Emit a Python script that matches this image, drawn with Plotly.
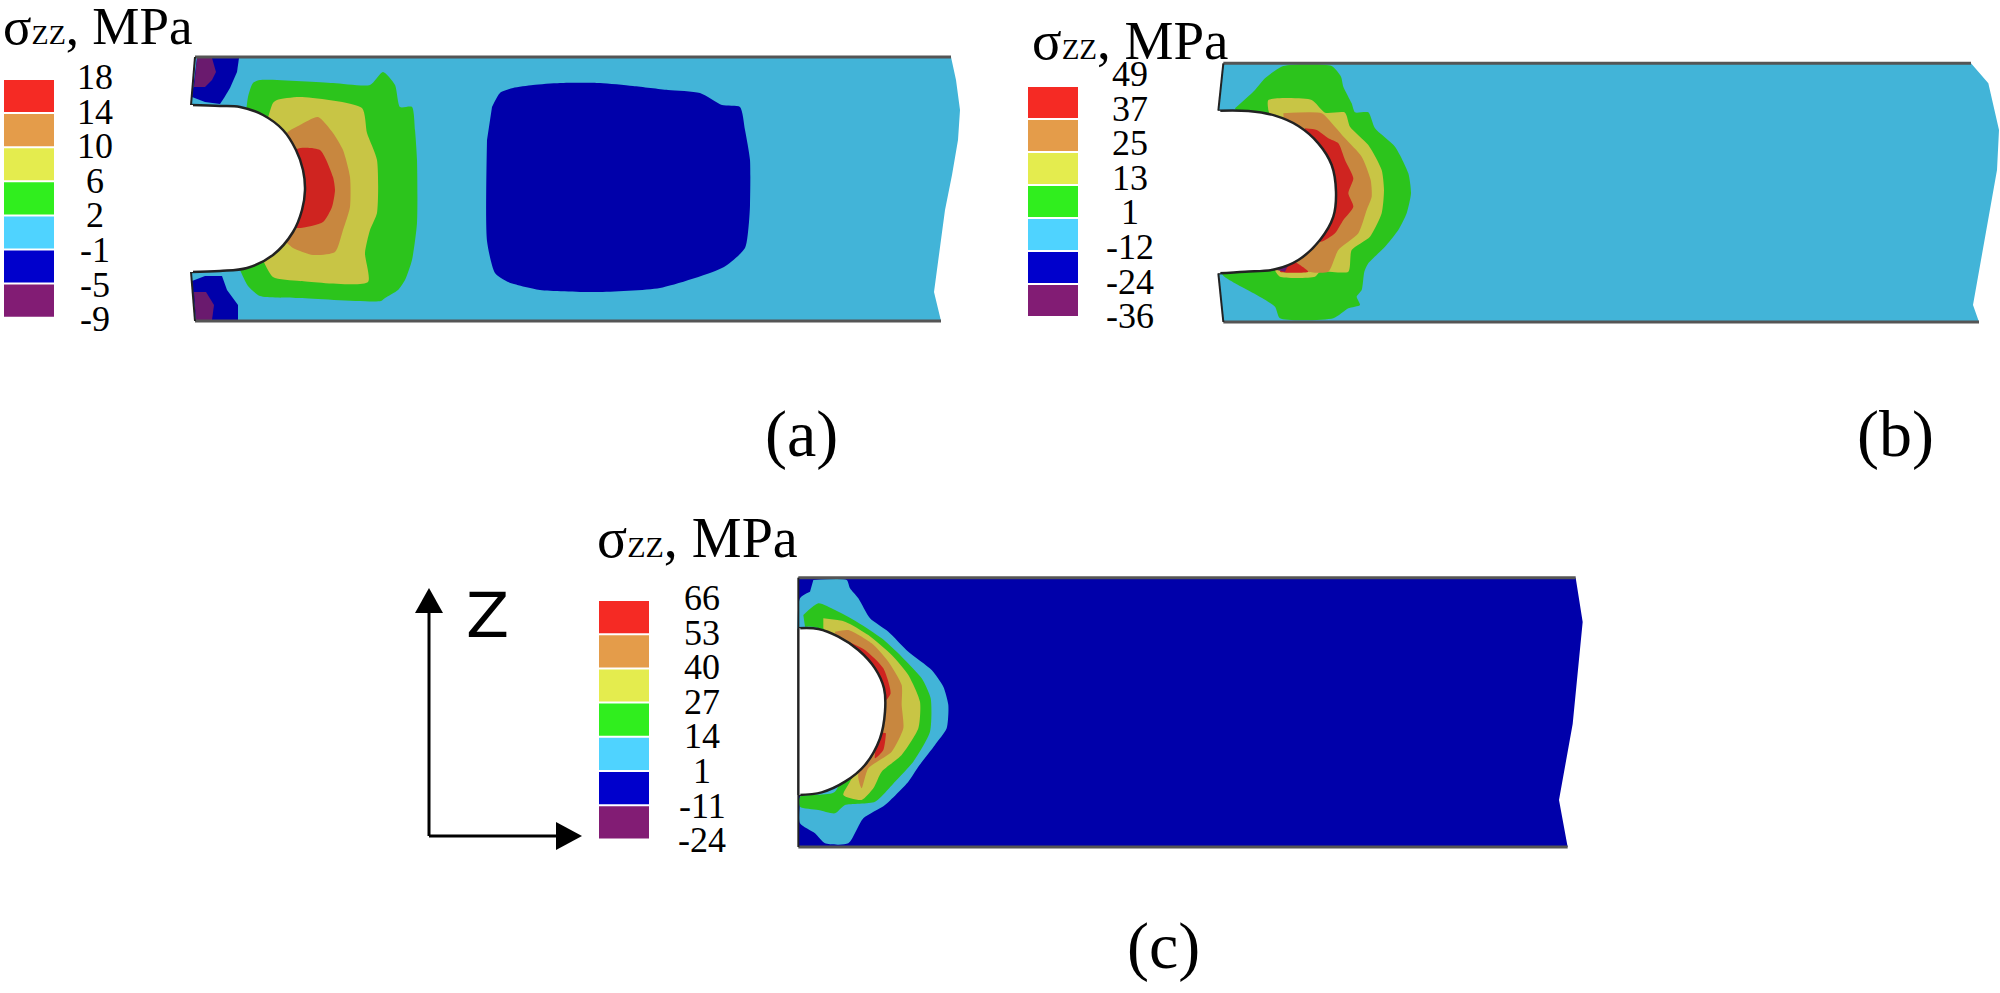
import plotly.graph_objects as go

##colours of the contour bands on the plates and in the legends
plate_red = "#CF2420"
plate_orange = "#C8873F"
plate_yellow = "#C8C545"
plate_green = "#2CC41C"
plate_cyan = "#42B4D8"
plate_blue = "#0000AA"
plate_purple = "#6A1A6E"
legend_colors = ["#F52A24", "#E49C4A", "#E4EC4E", "#30EE1E", "#4FD3FF", "#0000CC", "#821C74"]

##legend tick labels
ticks_a = ["18", "14", "10", "6", "2", "-1", "-5", "-9"]
ticks_b = ["49", "37", "25", "13", "1", "-12", "-24", "-36"]
ticks_c = ["66", "53", "40", "27", "14", "1", "-11", "-24"]

##panel (a), read in picture pixels
a_shape_x = [195, 951, 956, 960, 958, 952, 945, 938, 934, 941, 195, 191, 191]
a_shape_y = [57, 57, 80, 110, 140, 175, 210, 260, 292, 321, 321, 272, 105]
a_notch_x = [191, 220, 240, 263, 283, 296, 303, 305, 302, 293, 273, 247, 220, 191]
a_notch_y = [105, 106, 107, 115, 130, 150, 170, 190, 210, 232, 255, 268, 271, 272]
a_blue1_x = [197, 239, 237, 230, 224, 220, 205, 192]
a_blue1_y = [58, 58, 72, 88, 98, 104, 102, 97]
a_purple1_x = [197, 212, 216, 212, 205, 194]
a_purple1_y = [58, 58, 72, 80, 87, 87]
a_blue2_x = [192, 205, 222, 227, 238, 238, 196]
a_blue2_y = [281, 276, 276, 290, 305, 320, 320]
a_purple2_x = [194, 206, 214, 212, 196]
a_purple2_y = [292, 292, 305, 320, 320]
a_green_x = [240, 248, 253, 260, 333, 370, 383, 395, 400, 412, 415, 417, 417, 412, 405, 398, 385, 381, 300, 260, 248, 240]
a_green_y = [188, 97, 83, 80, 83, 85, 72, 85, 107, 107, 130, 160, 223, 260, 280, 290, 298, 301, 298, 296, 286, 270]
a_yellow_x = [250, 273, 277, 300, 362, 367, 377, 377, 370, 365, 368, 300, 273, 262]
a_yellow_y = [188, 103, 100, 97, 108, 133, 160, 213, 230, 253, 282, 281, 277, 258]
a_orange_x = [270, 287, 300, 318, 333, 343, 350, 350, 343, 335, 313, 293, 287, 270]
a_orange_y = [188, 133, 125, 117, 133, 150, 177, 207, 230, 252, 255, 248, 243, 230]
a_red_x = [285, 297, 320, 333, 335, 332, 323, 297, 285]
a_red_y = [188, 149, 150, 177, 190, 207, 222, 228, 220]
a_core_x = [492, 500, 513, 533, 560, 600, 633, 668, 700, 722, 740, 745, 750, 750, 749, 745, 724, 660, 597, 540, 508, 495, 487, 487]
a_core_y = [107, 93, 88, 85, 83, 83, 86, 90, 93, 105, 107, 130, 160, 205, 222, 248, 267, 288, 292, 290, 282, 273, 241, 140]

##panel (b), read in crop pixels at 3x, crop origin below
b_origin = (1205, 50)
b_shape_u = [55, 2298, 2350, 2382, 2376, 2352, 2304, 2322, 55, 40, 40]
b_shape_v = [40, 40, 100, 240, 360, 498, 765, 816, 816, 670, 182]
b_notch_u = [40, 130, 210, 280, 340, 380, 393, 385, 345, 280, 210, 120, 40]
b_notch_v = [182, 183, 197, 228, 280, 345, 425, 500, 570, 630, 658, 665, 670]
b_green_u = [90, 150, 180, 235, 380, 408, 415, 440, 450, 490, 510, 570, 610, 618, 605, 580, 540, 490, 478, 470, 455, 465, 430, 385, 225, 210, 155, 90, 50, 200]
b_green_v = [175, 120, 85, 48, 48, 80, 110, 160, 187, 187, 235, 290, 370, 430, 490, 540, 590, 640, 665, 720, 740, 765, 775, 805, 805, 770, 735, 700, 670, 400]
b_yellow_u = [190, 190, 320, 360, 420, 435, 490, 530, 537, 530, 495, 440, 430, 345, 330, 225, 210, 250]
b_yellow_v = [180, 150, 150, 188, 188, 230, 285, 360, 420, 490, 560, 600, 665, 665, 680, 680, 660, 400]
b_orange_u = [235, 350, 385, 420, 470, 497, 500, 485, 460, 400, 370, 310, 270, 250]
b_orange_v = [190, 190, 225, 265, 320, 390, 440, 480, 550, 600, 665, 665, 640, 400]
b_red1_u = [300, 335, 370, 400, 420, 445, 430, 445, 415, 390, 345, 300]
b_red1_v = [235, 240, 265, 280, 330, 385, 430, 470, 510, 550, 575, 400]
b_red2_u = [270, 285, 310, 225, 235]
b_red2_v = [635, 645, 665, 665, 650]
b_purple_u = [215, 250, 240]
b_purple_v = [660, 645, 665]

##panel (c), read in crop pixels at 3x, crop origin below
c_origin = (785, 565)
c_shape_u = [40, 2372, 2393, 2363, 2322, 2348, 40, 40, 40]
c_shape_v = [38, 38, 171, 477, 705, 846, 846, 690, 190]
c_notch_u = [40, 100, 160, 220, 270, 297, 300, 285, 240, 180, 110, 40]
c_notch_v = [190, 192, 215, 255, 310, 370, 440, 520, 600, 650, 682, 690]
c_cyan_u = [85, 185, 195, 220, 255, 310, 370, 440, 475, 490, 485, 450, 400, 370, 300, 235, 190, 120, 90, 45, 45, 45, 75]
c_cyan_v = [45, 45, 70, 100, 160, 200, 260, 315, 365, 420, 490, 540, 605, 650, 720, 760, 835, 835, 805, 775, 700, 100, 80]
c_green_u = [55, 100, 150, 215, 290, 350, 410, 437, 435, 385, 330, 270, 180, 150, 100, 45, 45, 150, 200, 100, 60]
c_green_v = [150, 115, 135, 170, 220, 275, 340, 400, 500, 590, 650, 710, 720, 745, 735, 725, 695, 680, 500, 190, 185]
c_yellow_u = [115, 180, 250, 320, 370, 405, 400, 350, 290, 265, 230, 175, 200, 250, 115]
c_yellow_v = [160, 170, 210, 270, 330, 410, 490, 570, 620, 670, 705, 690, 640, 400, 190]
c_orange_u = [150, 190, 260, 310, 350, 350, 355, 320, 250, 230, 220, 230, 150]
c_orange_v = [200, 195, 235, 290, 360, 420, 490, 560, 610, 670, 640, 400, 205]
c_red1_u = [185, 240, 295, 317, 298, 270]
c_red1_v = [228, 255, 310, 385, 410, 350]
c_red2_u = [303, 295, 270, 280]
c_red2_v = [505, 555, 580, 500]

SERIF = "Liberation Serif, Times New Roman, serif"

def from_crop(us, vs, origin):
    xs = [origin[0] + u / 3 for u in us]
    ys = [origin[1] + v / 3 for v in vs]
    return xs, ys

fig = go.Figure()

def poly(xs, ys, color, curve=False):
    line = dict(width=0, color=color)
    if curve:
        line = dict(width=0, color=color, shape="spline", smoothing=0.6)
    fig.add_trace(go.Scatter(x=xs, y=ys, mode="lines", fill="toself", fillcolor=color,
                             line=line, hoverinfo="skip", showlegend=False))

def notch(xs, ys):
    fig.add_trace(go.Scatter(x=xs, y=ys, mode="lines", fill="toself", fillcolor="#FFFFFF",
                             line=dict(width=2.5, color="#222222", shape="spline"),
                             hoverinfo="skip", showlegend=False))
    edge([xs[0], xs[-1]], [ys[0], ys[-1]], "#FFFFFF", 4)

def edge(xs, ys, color="#555555", width=3):
    fig.add_trace(go.Scatter(x=xs, y=ys, mode="lines", line=dict(color=color, width=width),
                             hoverinfo="skip", showlegend=False))

def label(x, y, text, size, family=SERIF, anchor="center"):
    fig.add_annotation(x=x, y=y, text=text, showarrow=False, xanchor=anchor, yanchor="middle",
                       font=dict(family=family, size=size, color="#000000"))

def color_key(left, top, pitch, ticks, tick_x, tick_top, tick_pitch, title_x, title_y, title_size):
    for i, c in enumerate(legend_colors):
        y0 = top + i * pitch
        poly([left, left + 50, left + 50, left], [y0, y0, y0 + pitch - 2, y0 + pitch - 2], c)
    for i, t in enumerate(ticks):
        label(tick_x, tick_top + i * tick_pitch, t, 36)
    small = round(title_size * 0.53)
    label(title_x, title_y, "σ<span style='font-size:%dpx'>ZZ</span>, MPa" % small, title_size, anchor="left")

##panel (a)
poly(a_shape_x, a_shape_y, plate_cyan)
poly(a_core_x, a_core_y, plate_blue, True)
poly(a_blue1_x, a_blue1_y, plate_blue)
poly(a_purple1_x, a_purple1_y, plate_purple)
poly(a_blue2_x, a_blue2_y, plate_blue)
poly(a_purple2_x, a_purple2_y, plate_purple)
poly(a_green_x, a_green_y, plate_green, True)
poly(a_yellow_x, a_yellow_y, plate_yellow, True)
poly(a_orange_x, a_orange_y, plate_orange, True)
poly(a_red_x, a_red_y, plate_red, True)
notch(a_notch_x, a_notch_y)
edge(a_shape_x[:2], a_shape_y[:2])
edge(a_shape_x[9:11], a_shape_y[9:11])
edge([195, 191], [57, 105], "#222222", 2)
edge([195, 191], [321, 272], "#222222", 2)
color_key(4, 80, 34.1, ticks_a, 95, 77, 34.6, 1, 26, 53)

##panel (b)
bx, by = from_crop(b_shape_u, b_shape_v, b_origin)
poly(bx, by, plate_cyan)
for us, vs, c in [(b_green_u, b_green_v, plate_green), (b_yellow_u, b_yellow_v, plate_yellow),
                  (b_orange_u, b_orange_v, plate_orange), (b_red1_u, b_red1_v, plate_red),
                  (b_red2_u, b_red2_v, plate_red), (b_purple_u, b_purple_v, plate_purple)]:
    xs, ys = from_crop(us, vs, b_origin)
    poly(xs, ys, c, len(us) > 3)
xs, ys = from_crop(b_notch_u, b_notch_v, b_origin)
notch(xs, ys)
edge(bx[:2], by[:2])
edge(bx[7:9], by[7:9])
edge([bx[0], bx[10]], [by[0], by[10]], "#222222", 2)
edge([bx[8], bx[9]], [by[8], by[9]], "#222222", 2)
color_key(1028, 87, 33, ticks_b, 1130, 74, 34.6, 1030, 40, 55)

##panel (c)
cx, cy = from_crop(c_shape_u, c_shape_v, c_origin)
poly(cx, cy, plate_blue)
for us, vs, c in [(c_cyan_u, c_cyan_v, plate_cyan), (c_green_u, c_green_v, plate_green),
                  (c_yellow_u, c_yellow_v, plate_yellow), (c_orange_u, c_orange_v, plate_orange),
                  (c_red1_u, c_red1_v, plate_red), (c_red2_u, c_red2_v, plate_red)]:
    xs, ys = from_crop(us, vs, c_origin)
    poly(xs, ys, c, True)
xs, ys = from_crop(c_notch_u, c_notch_v, c_origin)
notch(xs, ys)
edge(cx[:2], cy[:2])
edge(cx[5:7], cy[5:7])
edge([cx[0], cx[7]], [cy[0], cy[7]], "#222222", 2)
edge([cx[6], cx[8]], [cy[6], cy[8]], "#222222", 2)
color_key(599, 601, 34.2, ticks_c, 702, 598, 34.6, 595, 538, 56)

##axis arrows and panel letters
edge([429, 429], [610, 836], "#000000", 3)
edge([429, 558], [836, 836], "#000000", 3)
poly([429, 443, 415], [588, 613, 613], "#000000")
poly([582, 556, 556], [836, 822, 850], "#000000")
label(487, 615, "Z", 63, family="DejaVu Sans")
label(801, 434, "(a)", 66)
label(1895, 434, "(b)", 66)
label(1163, 946, "(c)", 66)

fig.update_layout(
    width=2000, height=993,
    margin=dict(l=0, r=0, t=0, b=0),
    paper_bgcolor="#FFFFFF", plot_bgcolor="#FFFFFF",
    showlegend=False,
    xaxis=dict(range=[0, 2000], visible=False),
    yaxis=dict(range=[993, 0], visible=False),
)
##page margin off, so that picture pixels and page pixels are the same
fig.write_html("out.html", config=dict(displayModeBar=False),
               post_script="document.body.style.margin='0';")
